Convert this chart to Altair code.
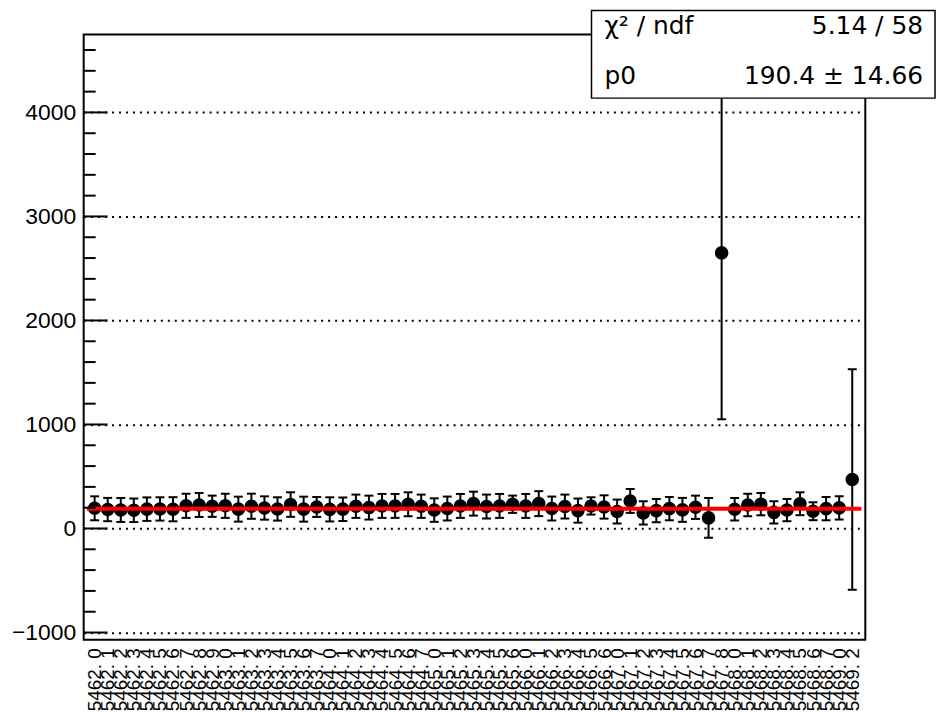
import altair as alt
import pandas as pd

# ---- data ----
run_labels = (
    [f"5462. {d}" for d in [0, 1, 2, 3, 4, 5, 6, 7, 8, 9]]
    + [f"5463. {d}" for d in [0, 1, 2, 3, 4, 5, 6, 7]]
    + [f"5464. {d}" for d in [0, 1, 2, 3, 4, 5, 6, 7]]
    + [f"5465. {d}" for d in [0, 1, 2, 3, 4, 5, 6]]
    + [f"5466. {d}" for d in [0, 1, 2, 3, 4, 5, 6]]
    + [f"5467. {d}" for d in [0, 1, 2, 3, 4, 5, 6, 7, 8]]
    + [f"5468. {d}" for d in [0, 1, 2, 3, 4, 5, 6, 7]]
    + [f"5469. {d}" for d in [0, 2]]
)
counts = [194, 182, 178, 175, 186, 188, 185, 218, 226, 214, 218, 186, 214, 197, 188, 230, 186, 207, 184, 186, 214,
          201, 217, 217, 233, 214, 177, 192, 217, 239, 211, 217, 233, 217, 239, 192, 211, 172, 217, 207, 163,
          265, 150, 172, 191, 179, 204, 102, 2650, 185, 226, 234, 155, 177, 238, 166, 191, 198, 471]
errors = [115, 112, 115, 113, 113, 112, 116, 116, 115, 102, 116, 120, 121, 112, 112, 118, 120, 96, 116, 113, 112,
          115, 115, 115, 115, 112, 113, 115, 115, 115, 115, 115, 83, 115, 120, 115, 115, 116, 83, 112, 115,
          115, 112, 112, 112, 115, 112, 191, 1600, 108, 108, 107, 107, 107, 110, 86, 112, 112, 1060]
fit_p0 = 190.4
fit_range = [-0.6, 58.7]
y_major = [-1000, 0, 1000, 2000, 3000, 4000]
y_minor = [v for v in range(-1000, 4601, 200) if v % 1000 != 0]
stats_rows = [("χ² / ndf", "5.14 / 58"), ("p0", "190.4 ± 14.66")]

FONT = "Liberation Sans"
STATS_FONT = "DejaVu Sans"
W, H = 785, 608

xscale = alt.Scale(domain=[-0.84, 59.0], nice=False, zero=False)
yscale = alt.Scale(domain=[-1070, 4750], nice=False, zero=False)

label_expr = "[" + ",".join(f"'{l}'" for l in run_labels) + "][datum.value]"

xaxis = alt.Axis(values=list(range(len(counts))), labelExpr=label_expr,
                 labelAngle=270, labelFontSize=19, labelFont=FONT,
                 labelColor="black", labelOverlap=False, labelPadding=8,
                 labelBound=False, labelFlush=False,
                 ticks=False, domain=False, grid=False, title=None)
yaxis = alt.Axis(values=y_major,
                 labelExpr="datum.value < 0 ? '\u2212' + format(-datum.value, 'd') : format(datum.value, 'd')",
                 grid=True, gridDash=[2, 5], gridColor="black",
                 gridWidth=2, gridOpacity=1, ticks=False, domain=False,
                 labelFontSize=23, labelFont=FONT, labelColor="black",
                 labelPadding=8, labelOverlap=False, labelBound=False, labelFlush=False,
                 title=None)

df = pd.DataFrame({"idx": list(range(len(counts))), "label": run_labels,
                   "v": counts, "e": errors})
df["lo"] = df["v"] - df["e"]
df["hi"] = df["v"] + df["e"]

base = alt.Chart(df)

X = alt.X("idx:Q", scale=xscale, axis=xaxis)

bars = base.mark_rule(color="black", strokeWidth=2).encode(
    x=X, y=alt.Y("lo:Q", scale=yscale, axis=yaxis), y2="hi:Q")
cap_lo = base.mark_tick(orient="horizontal", size=9, thickness=2, color="black", opacity=1).encode(
    x=X, y=alt.Y("lo:Q", scale=yscale, axis=yaxis))
cap_hi = base.mark_tick(orient="horizontal", size=9, thickness=2, color="black", opacity=1).encode(
    x=X, y=alt.Y("hi:Q", scale=yscale, axis=yaxis))
points = base.mark_circle(size=185, color="black", opacity=1).encode(
    x=X, y=alt.Y("v:Q", scale=yscale, axis=yaxis))

fit_df = pd.DataFrame({"x0": [fit_range[0]], "x1": [fit_range[1]], "p0": [fit_p0]})
fit = alt.Chart(fit_df).mark_rule(color="#ff0000", strokeWidth=4).encode(
    x=alt.X("x0:Q", scale=xscale, axis=xaxis), x2="x1:Q",
    y=alt.Y("p0:Q", scale=yscale, axis=yaxis))

major_ticks = alt.Chart(pd.DataFrame({"t": y_major})).mark_rule(color="black", strokeWidth=2).encode(
    y=alt.Y("t:Q", scale=yscale, axis=yaxis), x=alt.value(0), x2=alt.value(24))
minor_ticks = alt.Chart(pd.DataFrame({"t": y_minor})).mark_rule(color="black", strokeWidth=2).encode(
    y=alt.Y("t:Q", scale=yscale, axis=yaxis), x=alt.value(0), x2=alt.value(12))

one = pd.DataFrame({"a": [0]})
box = alt.Chart(one).mark_rect(fill="white", stroke="black", strokeWidth=1.5).encode(
    x=alt.value(510), x2=alt.value(855), y=alt.value(-24), y2=alt.value(64))

texts = []
for i, (name, val) in enumerate(stats_rows):
    yb = 0 + 50 * i
    texts.append(alt.Chart(one).mark_text(align="left", baseline="alphabetic", fontSize=25,
                                          font=STATS_FONT, color="black").encode(
        x=alt.value(523), y=alt.value(yb), text=alt.value(name)))
    texts.append(alt.Chart(one).mark_text(align="right", baseline="alphabetic", fontSize=25,
                                          font=STATS_FONT, color="black").encode(
        x=alt.value(843), y=alt.value(yb), text=alt.value(val)))

chart = alt.layer(bars, cap_lo, cap_hi, points, fit, major_ticks, minor_ticks, box, *texts).properties(
    width=W, height=H,
    autosize=alt.AutoSizeParams(type="none"),
    padding={"left": 76, "top": 25, "right": 72, "bottom": 71},
    background="white",
).configure_view(stroke="black", strokeWidth=2)

chart.save("out.html", embed_options={"renderer": "svg", "actions": False})
